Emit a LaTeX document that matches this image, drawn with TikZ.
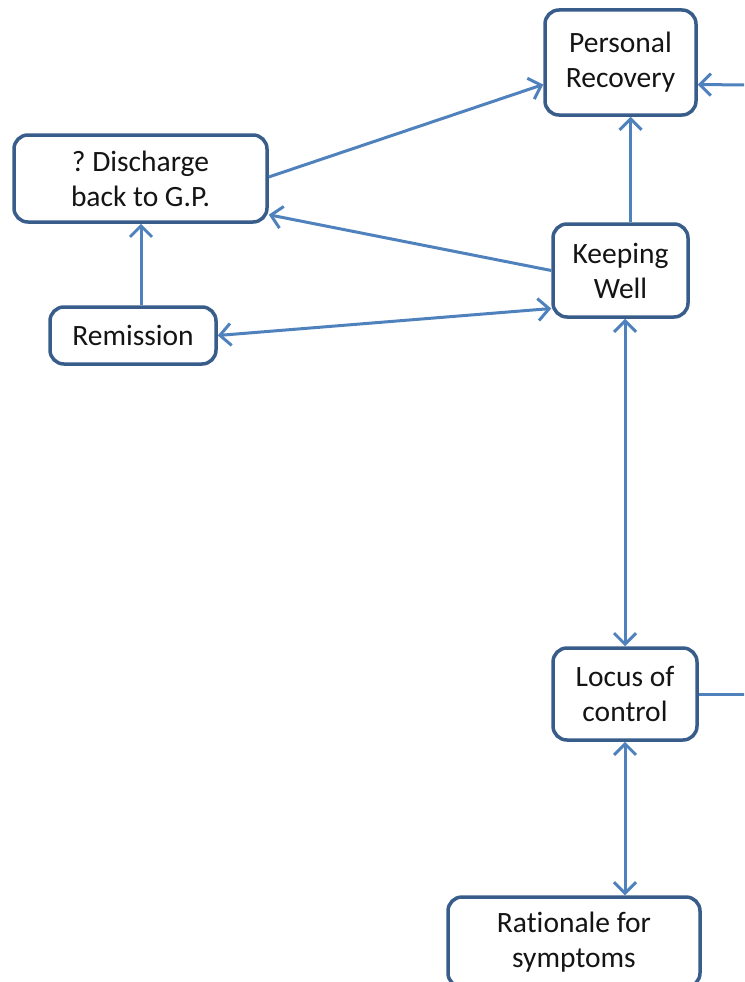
\documentclass[tikz,border=0pt]{standalone}
\usepackage{fontspec}
\setmainfont{Carlito}[Ligatures=NoCommon]
\usetikzlibrary{arrows.meta}
\definecolor{linkblue}{RGB}{79,129,189}
\definecolor{edgeblue}{RGB}{56,93,138}
\definecolor{inktext}{RGB}{20,20,20}
\frenchspacing
\begin{document}
\begin{tikzpicture}[x=1pt,y=-1pt,
  stage/.style={draw=edgeblue, line width=3.5pt, rounded corners=14pt, fill=white,
    align=center, inner sep=0pt, text=inktext,
    font=\fontsize{29.5}{35}\selectfont},
  link/.style={draw=linkblue, line width=3pt,
    arrows={-Straight Barb[length=11pt,width=22pt,line width=3pt]}},
  twoway/.style={link, arrows={Straight Barb[length=11pt,width=22pt,line width=3pt]-Straight Barb[length=11pt,width=22pt,line width=3pt]}},
  plainlink/.style={draw=linkblue, line width=3pt}
]
\useasboundingbox (0,0) rectangle (744,982);
\begin{scope}
\clip (0,0) rectangle (744,982);

% stages of the pathway
\node[stage, minimum width=151pt, minimum height=105pt] (pr)   at (620.5,62.5) {Personal\\Recovery};
\node[stage, minimum width=253pt, minimum height=87pt]  (disc) at (140.5,178.5) {? Discharge\\back to G.P.};
\node[stage, minimum width=166pt, minimum height=57pt]  (rem)  at (133,335.5) {Remission};
\node[stage, minimum width=135pt, minimum height=93pt]  (kw)   at (620.5,270.5) {Keeping\\Well};
\node[stage, minimum width=144pt, minimum height=92pt]  (loc)  at (625,694) {Locus of\\control};
\node[stage, minimum width=252pt, minimum height=90pt]  (rat)  at (574,942) {Rationale for\\symptoms};

% off-picture continuations on the right
\coordinate (inR)  at (746,85);
\coordinate (outR) at (746,694);

% connectors
\draw[link] ([yshift=1.5pt]disc.east) -- ([yshift=-22pt]pr.west);
\draw[link] ([xshift=10pt]kw.north) -- ([xshift=10pt]pr.south);
\draw[link] (kw.west) -- ([yshift=9pt]disc.south east);
\draw[twoway] (rem.east) -- ([yshift=-38pt]kw.west);
\draw[link] ([xshift=8pt]rem.north) -- ([xshift=0.5pt]disc.south);
\draw[twoway] ([xshift=4.5pt]kw.south) -- (loc.north);
\draw[twoway] (loc.south) -- ([xshift=51pt]rat.north);
\draw[link] (inR) -- ([yshift=-22pt]pr.east);
\draw[plainlink] (loc.east) -- (outR);
\end{scope}
\end{tikzpicture}
\end{document}
